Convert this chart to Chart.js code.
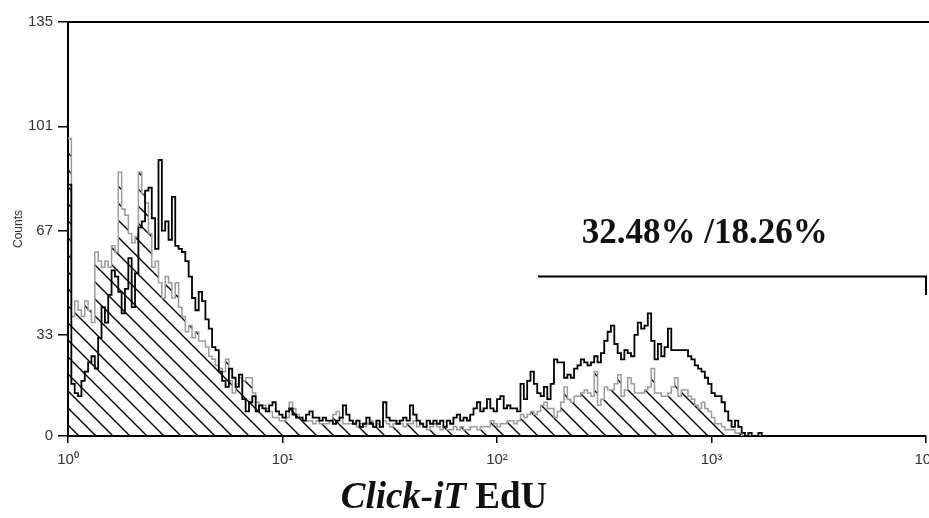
<!DOCTYPE html>
<html>
<head>
<meta charset="utf-8">
<script src="https://cdn.jsdelivr.net/npm/chart.js@4.4.1/dist/chart.umd.min.js"></script>
<style>
   html, body { margin: 0; padding: 0; background: #fff; overflow: hidden; }
</style>
</head>
<body>
<canvas id="histo" width="929" height="518"></canvas>
<script>
// 256 log channels over 4 decades, like the cytometer export
const channels = 256;
const decades = 4;

// EdU-stained sample (black line), channels 0..207
let blackCounts = [
   82, 17, 14, 13, 18, 21, 24, 26, 22, 32, 42, 37, 46, 54, 52, 47,
   40, 48, 58, 42, 53, 68, 70, 80, 81, 71, 61, 90, 67, 70, 64, 78,
   62, 61, 60, 57, 52, 45, 41, 47, 44, 38, 35, 29, 28, 21, 18, 16,
   22, 19, 16, 20, 12, 8, 11, 13, 8, 10, 9, 8, 10, 11, 8, 7,
   6, 8, 9, 7, 6, 6, 5, 7, 8, 6, 6, 5, 6, 5, 5, 4,
   5, 6, 10, 7, 5, 4, 5, 3, 4, 6, 4, 3, 5, 3, 11, 6,
   5, 5, 4, 5, 6, 5, 10, 7, 5, 4, 3, 5, 4, 5, 4, 5,
   3, 5, 4, 6, 7, 5, 6, 5, 7, 9, 11, 8, 9, 12, 9, 8,
   12, 13, 9, 10, 9, 9, 8, 17, 12, 18, 21, 17, 14, 13, 16, 12,
   17, 25, 24, 24, 19, 20, 19, 22, 23, 25, 24, 23, 24, 26, 24, 27,
   31, 34, 36, 30, 27, 25, 28, 27, 26, 33, 37, 35, 36, 40, 31, 25,
   30, 26, 29, 35, 28, 28, 28, 28, 28, 26, 25, 23, 22, 21, 19, 17,
   14, 13, 13, 11, 8, 5, 3, 5, 3, 1, 0, 1, 0, 0, 1, 0,
];

// second sample (grey line, hatched), channels 0..207
let grayCounts = [
   97, 39, 44, 41, 39, 44, 41, 37, 60, 57, 55, 57, 55, 62, 60, 86,
   74, 72, 66, 63, 65, 86, 79, 76, 66, 55, 57, 50, 45, 52, 50, 45,
   50, 42, 39, 34, 36, 32, 34, 31, 31, 29, 26, 25, 23, 22, 21, 25,
   18, 14, 17, 19, 18, 19, 19, 14, 11, 10, 10, 9, 8, 6, 6, 5,
   5, 6, 11, 9, 7, 6, 5, 5, 5, 4, 5, 4, 4, 4, 5, 7,
   8, 6, 4, 4, 4, 4, 3, 4, 3, 4, 5, 3, 4, 3, 5, 4,
   3, 4, 5, 4, 3, 4, 4, 5, 3, 4, 3, 2, 3, 4, 3, 2,
   3, 2, 2, 3, 2, 3, 2, 2, 3, 3, 2, 3, 3, 3, 5, 4,
   3, 4, 4, 5, 5, 4, 5, 7, 6, 7, 8, 7, 8, 10, 11, 9,
   9, 6, 8, 11, 16, 12, 11, 13, 13, 14, 15, 14, 13, 21, 10, 12,
   16, 15, 15, 17, 20, 13, 15, 19, 17, 14, 14, 14, 15, 16, 22, 14,
   14, 13, 13, 14, 16, 19, 13, 15, 15, 13, 12, 10, 9, 11, 9, 8,
   6, 4, 4, 3, 2, 2, 2, 1, 1, 0, 0, 0, 0, 0, 0, 0,
];

let yTicks = [0, 33, 67, 101, 135];
let xTicks = [1, 10, 100, 1000, 10000];
let xTickLabels = ["10⁰", "10¹", "10²", "10³", "10⁴"];

// M1 marker
let gateRange = [155, 10000];
let gateLevel = 52;
let gateEndLevel = 46;
let gateText = "32.48% /18.26%";

// channel i starts at 10^(i*decades/channels)
function toPoints(counts) {
   const edge = (i) => Math.pow(10, (i * decades) / channels);
   const pts = counts.map((c, i) => ({ x: edge(i), y: c }));
   pts.push({ x: edge(counts.length), y: 0 });
   return pts;
}

const canvas = document.getElementById("histo");
const ctx = canvas.getContext("2d");

function hatch() {
   const tile = document.createElement("canvas");
   tile.width = 17;
   tile.height = 17;
   const g = tile.getContext("2d");
   g.strokeStyle = "#000";
   g.lineWidth = 1.4;
   g.beginPath();
   g.moveTo(-2, -2);
   g.lineTo(19, 19);
   g.moveTo(-2, 15);
   g.lineTo(2, 19);
   g.moveTo(15, -2);
   g.lineTo(19, 2);
   g.stroke();
   return ctx.createPattern(tile, "repeat");
}

const annotate = {
   id: "annotate",
   afterDraw(chart) {
      const { ctx, chartArea: a, scales } = chart;
      ctx.save();
      // top frame line
      ctx.strokeStyle = "#000";
      ctx.lineWidth = 2;
      ctx.beginPath();
      ctx.moveTo(a.left, a.top);
      ctx.lineTo(chart.width, a.top);
      ctx.stroke();

      // marker text
      ctx.fillStyle = "#111";
      ctx.textAlign = "center";
      ctx.textBaseline = "alphabetic";
      ctx.font = 'bold 35px "Liberation Serif"';
      ctx.fillText(gateText, scales.x.getPixelForValue(930), scales.y.getPixelForValue(63));

      // x title, italic part + upright part
      const p1 = "Click-iT";
      const p2 = " EdU";
      ctx.textAlign = "left";
      ctx.font = 'italic bold 37px "Liberation Serif"';
      const w1 = ctx.measureText(p1).width;
      ctx.font = 'bold 37px "Liberation Serif"';
      const w2 = ctx.measureText(p2).width;
      let x0 = a.left + 376 - (w1 + w2) / 2;
      ctx.font = 'italic bold 37px "Liberation Serif"';
      ctx.fillText(p1, x0, 508);
      ctx.font = 'bold 37px "Liberation Serif"';
      ctx.fillText(p2, x0 + w1, 508);
      ctx.restore();
   },
};

const tickFont = { family: "Liberation Sans", size: 15 };

const myChart = new Chart(ctx, {
   type: "line",
   data: {
      datasets: [
         {
            label: "EdU",
            data: toPoints(blackCounts),
            borderColor: "#000",
            borderWidth: 1.8,
            stepped: true,
            pointRadius: 0,
            fill: false,
            order: 0,
         },
         {
            label: "Control",
            data: toPoints(grayCounts),
            borderColor: "#9c9c9c",
            borderWidth: 1.5,
            backgroundColor: hatch(),
            fill: "origin",
            stepped: true,
            pointRadius: 0,
            order: 1,
         },
         {
            label: "M1",
            data: [
               { x: gateRange[0], y: gateLevel },
               { x: gateRange[1], y: gateLevel },
               { x: gateRange[1], y: gateEndLevel },
            ],
            borderColor: "#000",
            borderWidth: 2,
            pointRadius: 0,
            fill: false,
            clip: false,
            order: 0,
         },
      ],
   },
   options: {
      responsive: false,
      animation: false,
      devicePixelRatio: 1,
      layout: { padding: { top: 22, right: 3, bottom: 0, left: 0 } },
      plugins: {
         legend: { display: false },
         tooltip: { enabled: false },
      },
      scales: {
         x: {
            type: "logarithmic",
            min: 1,
            max: 10000,
            afterBuildTicks: (s) => {
               s.ticks = xTicks.map((v) => ({ value: v }));
            },
            afterFit: (s) => {
               s.height = 82;
               s.paddingLeft = 0;
               s.paddingRight = 0;
            },
            ticks: {
               callback: (v, i) => xTickLabels[i],
               font: tickFont,
               color: "#333",
               padding: 8,
               maxRotation: 0,
               autoSkip: false,
            },
            grid: {
               display: true,
               drawOnChartArea: false,
               tickLength: 7,
               color: "#000",
               lineWidth: 1.5,
            },
            border: { display: true, color: "#000", width: 2 },
         },
         y: {
            min: 0,
            max: 135,
            afterBuildTicks: (s) => {
               s.ticks = yTicks.map((v) => ({ value: v }));
            },
            afterFit: (s) => {
               s.width = 68;
            },
            ticks: {
               font: tickFont,
               color: "#333",
               padding: 5,
               autoSkip: false,
            },
            grid: {
               display: true,
               drawOnChartArea: false,
               tickLength: 10,
               color: "#000",
               lineWidth: 1.5,
            },
            border: { display: true, color: "#000", width: 2 },
            title: {
               display: true,
               text: "Counts",
               font: { family: "Liberation Sans", size: 12 },
               color: "#333",
               padding: { top: 11, bottom: 0 },
            },
         },
      },
   },
   plugins: [annotate],
});
</script>
</body>
</html>
